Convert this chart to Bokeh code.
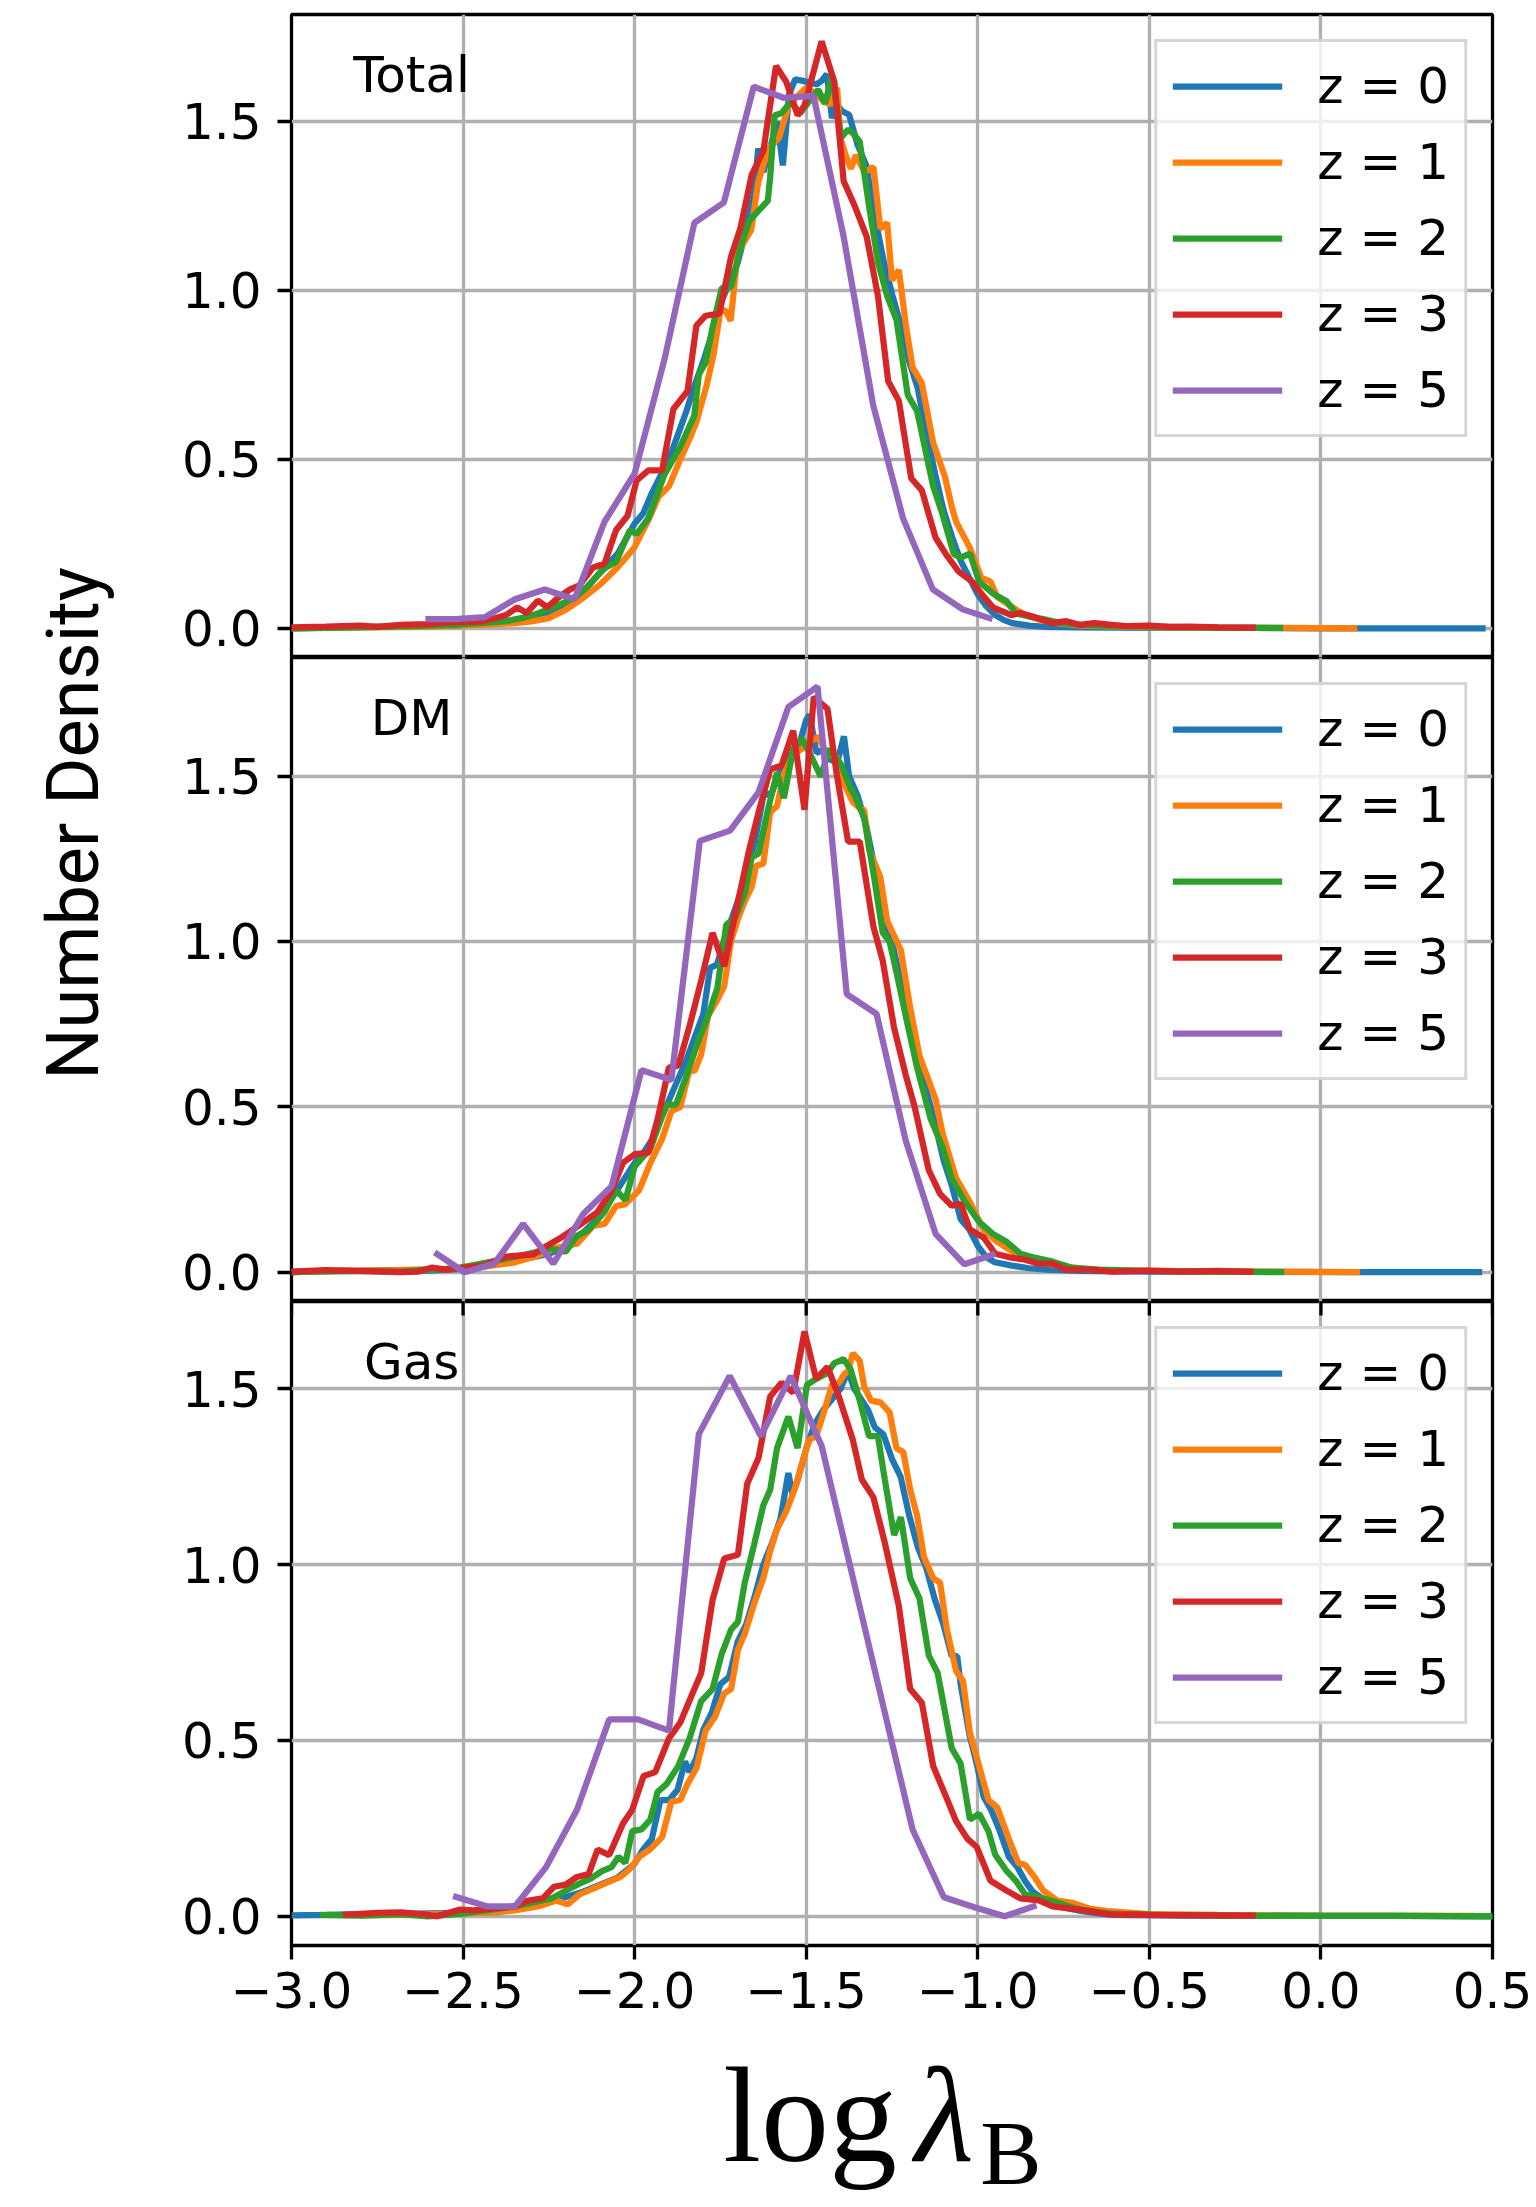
import math
from bokeh.plotting import figure
from bokeh.models import Range1d, FixedTicker, Grid, Label, CustomJSTickFormatter
from bokeh.layouts import row, column
from bokeh.embed import file_html
from bokeh.resources import INLINE

# ---------------- data ----------------
colors = ["#1f77b4", "#ff7f0e", "#2ca02c", "#d62728", "#9467bd"]
z_labels = ["z = 0", "z = 1", "z = 2", "z = 3", "z = 5"]
panel_names = ["Total", "DM", "Gas"]
x_ticks = [-3.0, -2.5, -2.0, -1.5, -1.0, -0.5, 0.0, 0.5]
y_ticks = [0.0, 0.5, 1.0, 1.5]
x_limits = (-3.0, 0.5)
y_limits = [(-0.0865, 1.8165), (-0.0885, 1.8585), (-0.083, 1.748)]

total_z0 = [(-3.0,0.0),(-2.9,0.002),(-2.8,0.004),(-2.7,0.005),(-2.6,0.006),(-2.5,0.01),(-2.45,0.012),(-2.4,0.015),(-2.35,0.02),(-2.3,0.03),(-2.25,0.045),(-2.2,0.075),(-2.15,0.11),(-2.1,0.165),(-2.05,0.22),(-2.0,0.31),(-1.975,0.34),(-1.95,0.40),(-1.925,0.45),(-1.9,0.50),(-1.875,0.57),(-1.85,0.64),(-1.825,0.72),(-1.8,0.79),(-1.775,0.87),(-1.75,0.96),(-1.725,1.02),(-1.7,1.08),(-1.675,1.18),(-1.65,1.30),(-1.64,1.42),(-1.625,1.35),(-1.6,1.44),(-1.585,1.50),(-1.568,1.37),(-1.55,1.58),(-1.532,1.625),(-1.51,1.62),(-1.49,1.615),(-1.47,1.61),(-1.455,1.62),(-1.44,1.64),(-1.425,1.51),(-1.41,1.55),(-1.395,1.53),(-1.375,1.52),(-1.35,1.43),(-1.325,1.37),(-1.3,1.22),(-1.275,1.09),(-1.25,0.99),(-1.225,0.90),(-1.2,0.79),(-1.175,0.71),(-1.15,0.58),(-1.125,0.46),(-1.1,0.35),(-1.075,0.27),(-1.05,0.20),(-1.025,0.15),(-1.0,0.10),(-0.975,0.065),(-0.95,0.04),(-0.925,0.025),(-0.9,0.015),(-0.85,0.008),(-0.8,0.004),(-0.7,0.003),(-0.6,0.002),(-0.4,0.001),(-0.2,0.001),(0.0,0.0),(0.2,0.0),(0.48,0.0)]
total_z1 = [(-3.0,0.0),(-2.8,0.003),(-2.6,0.005),(-2.45,0.01),(-2.35,0.015),(-2.3,0.02),(-2.25,0.03),(-2.2,0.055),(-2.15,0.09),(-2.1,0.13),(-2.05,0.18),(-2.0,0.24),(-1.96,0.32),(-1.93,0.39),(-1.9,0.42),(-1.867,0.50),(-1.84,0.56),(-1.82,0.61),(-1.79,0.72),(-1.77,0.81),(-1.75,0.94),(-1.735,0.94),(-1.72,0.91),(-1.70,1.11),(-1.66,1.18),(-1.64,1.32),(-1.61,1.42),(-1.58,1.45),(-1.55,1.55),(-1.52,1.58),(-1.50,1.60),(-1.47,1.58),(-1.45,1.56),(-1.43,1.55),(-1.41,1.60),(-1.40,1.45),(-1.385,1.40),(-1.37,1.36),(-1.355,1.40),(-1.33,1.35),(-1.304,1.365),(-1.284,1.183),(-1.264,1.2),(-1.25,1.03),(-1.23,1.06),(-1.21,0.90),(-1.19,0.772),(-1.163,0.725),(-1.13,0.549),(-1.096,0.449),(-1.076,0.36),(-1.063,0.315),(-1.023,0.238),(-0.99,0.15),(-0.963,0.138),(-0.943,0.092),(-0.889,0.056),(-0.862,0.039),(-0.82,0.025),(-0.77,0.015),(-0.7,0.008),(-0.6,0.005),(-0.45,0.003),(-0.3,0.002),(-0.1,0.001),(0.106,0.0)]
total_z2 = [(-3.0,0.0),(-2.8,0.003),(-2.65,0.006),(-2.523,0.01),(-2.45,0.015),(-2.375,0.021),(-2.33,0.03),(-2.282,0.044),(-2.23,0.065),(-2.175,0.09),(-2.13,0.13),(-2.094,0.174),(-2.054,0.197),(-2.014,0.29),(-1.994,0.279),(-1.96,0.326),(-1.913,0.455),(-1.867,0.537),(-1.826,0.63),(-1.813,0.751),(-1.793,0.786),(-1.773,0.89),(-1.746,1.007),(-1.719,1.01),(-1.692,1.125),(-1.666,1.206),(-1.639,1.236),(-1.612,1.265),(-1.605,1.335),(-1.592,1.518),(-1.572,1.524),(-1.545,1.559),(-1.518,1.524),(-1.492,1.559),(-1.465,1.594),(-1.445,1.553),(-1.425,1.635),(-1.398,1.453),(-1.378,1.476),(-1.364,1.465),(-1.344,1.44),(-1.317,1.25),(-1.29,1.08),(-1.264,0.983),(-1.237,0.913),(-1.204,0.69),(-1.177,0.643),(-1.13,0.42),(-1.103,0.338),(-1.07,0.22),(-1.05,0.209),(-1.023,0.221),(-0.996,0.138),(-0.956,0.103),(-0.916,0.08),(-0.889,0.044),(-0.85,0.035),(-0.809,0.027),(-0.755,0.015),(-0.7,0.01),(-0.6,0.006),(-0.45,0.004),(-0.3,0.002),(-0.11,0.001)]
total_z3 = [(-3.0,0.003),(-2.9,0.005),(-2.8,0.008),(-2.75,0.004),(-2.683,0.01),(-2.603,0.012),(-2.523,0.018),(-2.45,0.02),(-2.416,0.027),(-2.375,0.039),(-2.342,0.062),(-2.315,0.045),(-2.282,0.082),(-2.255,0.062),(-2.221,0.092),(-2.188,0.115),(-2.161,0.127),(-2.121,0.18),(-2.088,0.191),(-2.054,0.291),(-2.021,0.332),(-1.994,0.438),(-1.96,0.467),(-1.92,0.467),(-1.887,0.649),(-1.846,0.702),(-1.82,0.896),(-1.793,0.925),(-1.753,0.931),(-1.719,1.10),(-1.692,1.183),(-1.659,1.342),(-1.625,1.412),(-1.588,1.664),(-1.558,1.617),(-1.525,1.518),(-1.505,1.547),(-1.455,1.737),(-1.418,1.617),(-1.391,1.324),(-1.358,1.248),(-1.324,1.16),(-1.291,0.984),(-1.261,0.731),(-1.23,0.673),(-1.194,0.444),(-1.163,0.408),(-1.123,0.268),(-1.09,0.215),(-1.056,0.168),(-1.016,0.138),(-0.99,0.103),(-0.956,0.062),(-0.902,0.039),(-0.876,0.045),(-0.835,0.033),(-0.782,0.015),(-0.742,0.021),(-0.702,0.01),(-0.661,0.015),(-0.61,0.01),(-0.56,0.006),(-0.5,0.008),(-0.44,0.004),(-0.38,0.005),(-0.3,0.003),(-0.19,0.002)]
total_z5 = [(-2.61,0.027),(-2.523,0.027),(-2.436,0.033),(-2.349,0.086),(-2.262,0.115),(-2.175,0.086),(-2.088,0.315),(-2.0,0.458),(-1.913,0.796),(-1.826,1.20),(-1.74,1.26),(-1.653,1.603),(-1.566,1.57),(-1.479,1.576),(-1.392,1.165),(-1.305,0.661),(-1.218,0.326),(-1.131,0.115),(-1.044,0.056),(-0.957,0.027)]

dm_z0 = [(-3.0,0.0),(-2.9,0.003),(-2.8,0.004),(-2.7,0.006),(-2.6,0.005),(-2.5,0.01),(-2.45,0.015),(-2.4,0.025),(-2.35,0.035),(-2.3,0.045),(-2.25,0.055),(-2.2,0.08),(-2.15,0.12),(-2.1,0.17),(-2.05,0.25),(-2.0,0.33),(-1.975,0.36),(-1.95,0.40),(-1.925,0.46),(-1.9,0.52),(-1.875,0.58),(-1.85,0.64),(-1.825,0.71),(-1.8,0.78),(-1.78,0.92),(-1.76,0.93),(-1.74,1.0),(-1.72,1.06),(-1.7,1.12),(-1.675,1.20),(-1.65,1.30),(-1.625,1.44),(-1.6,1.45),(-1.575,1.52),(-1.55,1.56),(-1.525,1.58),(-1.5,1.67),(-1.49,1.685),(-1.47,1.57),(-1.45,1.58),(-1.43,1.55),(-1.41,1.54),(-1.39,1.62),(-1.375,1.50),(-1.35,1.44),(-1.325,1.35),(-1.3,1.22),(-1.275,1.08),(-1.25,1.0),(-1.225,0.88),(-1.2,0.79),(-1.175,0.66),(-1.15,0.55),(-1.125,0.45),(-1.1,0.34),(-1.075,0.26),(-1.05,0.16),(-1.025,0.13),(-1.0,0.08),(-0.975,0.045),(-0.95,0.03),(-0.9,0.02),(-0.85,0.012),(-0.8,0.008),(-0.7,0.004),(-0.5,0.002),(-0.2,0.001),(0.1,0.0),(0.47,0.0)]
dm_z1 = [(-3.0,0.0),(-2.85,0.004),(-2.7,0.006),(-2.55,0.01),(-2.45,0.015),(-2.349,0.03),(-2.282,0.05),(-2.228,0.074),(-2.168,0.086),(-2.121,0.14),(-2.088,0.146),(-2.054,0.2),(-2.027,0.206),(-1.987,0.248),(-1.954,0.331),(-1.92,0.403),(-1.893,0.487),(-1.867,0.499),(-1.84,0.613),(-1.826,0.607),(-1.806,0.659),(-1.786,0.775),(-1.759,0.823),(-1.739,0.865),(-1.719,1.002),(-1.699,1.068),(-1.679,1.122),(-1.659,1.164),(-1.646,1.229),(-1.625,1.235),(-1.605,1.391),(-1.585,1.409),(-1.565,1.505),(-1.538,1.565),(-1.512,1.583),(-1.485,1.607),(-1.465,1.619),(-1.438,1.565),(-1.411,1.559),(-1.391,1.481),(-1.364,1.421),(-1.344,1.403),(-1.331,1.397),(-1.317,1.278),(-1.284,1.194),(-1.264,1.062),(-1.224,0.973),(-1.197,0.799),(-1.17,0.655),(-1.123,0.523),(-1.103,0.421),(-1.063,0.284),(-1.023,0.212),(-0.983,0.128),(-0.943,0.092),(-0.889,0.056),(-0.835,0.038),(-0.768,0.02),(-0.675,0.008),(-0.55,0.005),(-0.4,0.003),(-0.2,0.002),(0.114,0.0)]
dm_z2 = [(-3.0,0.0),(-2.85,0.004),(-2.683,0.002),(-2.603,0.008),(-2.523,0.011),(-2.416,0.032),(-2.335,0.05),(-2.242,0.071),(-2.201,0.062),(-2.168,0.11),(-2.134,0.128),(-2.088,0.182),(-2.054,0.248),(-2.027,0.218),(-2.0,0.32),(-1.954,0.374),(-1.907,0.508),(-1.88,0.505),(-1.853,0.583),(-1.813,0.703),(-1.786,0.775),(-1.759,0.859),(-1.733,1.05),(-1.706,1.074),(-1.679,1.146),(-1.659,1.254),(-1.639,1.266),(-1.612,1.397),(-1.585,1.511),(-1.565,1.433),(-1.538,1.583),(-1.512,1.613),(-1.485,1.559),(-1.458,1.499),(-1.431,1.583),(-1.398,1.535),(-1.371,1.463),(-1.358,1.439),(-1.331,1.373),(-1.304,1.206),(-1.277,1.026),(-1.257,1.0),(-1.237,0.907),(-1.21,0.775),(-1.177,0.619),(-1.137,0.463),(-1.103,0.379),(-1.076,0.283),(-1.036,0.211),(-0.996,0.152),(-0.956,0.116),(-0.916,0.092),(-0.876,0.056),(-0.835,0.044),(-0.782,0.032),(-0.728,0.014),(-0.648,0.008),(-0.5,0.004),(-0.3,0.002),(-0.107,0.0)]
dm_z3 = [(-3.0,0.002),(-2.9,0.006),(-2.8,0.004),(-2.683,0.0),(-2.63,0.002),(-2.59,0.014),(-2.55,0.008),(-2.496,0.014),(-2.442,0.02),(-2.375,0.047),(-2.295,0.054),(-2.255,0.08),(-2.215,0.104),(-2.181,0.128),(-2.148,0.152),(-2.108,0.182),(-2.067,0.247),(-2.034,0.331),(-2.0,0.357),(-1.96,0.361),(-1.933,0.463),(-1.9,0.619),(-1.873,0.625),(-1.84,0.744),(-1.806,0.882),(-1.773,1.026),(-1.739,0.925),(-1.706,1.086),(-1.666,1.278),(-1.639,1.39),(-1.605,1.52),(-1.572,1.532),(-1.538,1.637),(-1.505,1.398),(-1.478,1.739),(-1.438,1.703),(-1.411,1.505),(-1.378,1.302),(-1.344,1.302),(-1.304,1.044),(-1.277,0.942),(-1.244,0.739),(-1.21,0.596),(-1.184,0.5),(-1.143,0.309),(-1.11,0.237),(-1.076,0.201),(-1.05,0.207),(-1.023,0.129),(-0.983,0.105),(-0.949,0.056),(-0.902,0.044),(-0.862,0.038),(-0.822,0.026),(-0.782,0.026),(-0.742,0.008),(-0.675,0.008),(-0.608,0.002),(-0.5,0.005),(-0.4,0.002),(-0.3,0.004),(-0.196,0.001)]
dm_z5 = [(-2.583,0.06),(-2.496,0.0),(-2.409,0.026),(-2.325,0.146),(-2.237,0.026),(-2.15,0.176),(-2.067,0.26),(-1.98,0.611),(-1.893,0.581),(-1.81,1.304),(-1.722,1.335),(-1.639,1.451),(-1.552,1.709),(-1.467,1.771),(-1.382,0.841),(-1.295,0.781),(-1.21,0.398),(-1.123,0.116),(-1.039,0.024),(-0.949,0.056)]

gas_z0 = [(-3.0,0.003),(-2.9,0.004),(-2.8,0.006),(-2.7,0.005),(-2.6,0.008),(-2.5,0.01),(-2.4,0.012),(-2.35,0.02),(-2.3,0.03),(-2.25,0.04),(-2.2,0.055),(-2.15,0.07),(-2.1,0.09),(-2.05,0.11),(-2.0,0.15),(-1.975,0.19),(-1.95,0.22),(-1.925,0.33),(-1.9,0.33),(-1.875,0.36),(-1.853,0.44),(-1.84,0.41),(-1.82,0.45),(-1.8,0.53),(-1.775,0.58),(-1.75,0.66),(-1.725,0.68),(-1.7,0.78),(-1.675,0.83),(-1.65,0.91),(-1.625,1.0),(-1.6,1.06),(-1.575,1.13),(-1.552,1.26),(-1.54,1.2),(-1.525,1.24),(-1.5,1.33),(-1.475,1.4),(-1.45,1.44),(-1.425,1.47),(-1.4,1.5),(-1.378,1.55),(-1.36,1.5),(-1.34,1.47),(-1.32,1.44),(-1.3,1.39),(-1.275,1.37),(-1.25,1.30),(-1.225,1.25),(-1.2,1.14),(-1.175,1.05),(-1.15,0.99),(-1.125,0.9),(-1.1,0.83),(-1.076,0.74),(-1.06,0.74),(-1.05,0.66),(-1.025,0.52),(-1.0,0.42),(-0.983,0.34),(-0.96,0.3),(-0.935,0.24),(-0.91,0.17),(-0.885,0.14),(-0.862,0.10),(-0.84,0.07),(-0.81,0.05),(-0.78,0.035),(-0.75,0.025),(-0.7,0.015),(-0.65,0.008),(-0.6,0.004),(-0.4,0.002),(-0.1,0.001),(0.2,0.001),(0.5,0.0)]
gas_z1 = [(-2.8,0.003),(-2.65,0.005),(-2.5,0.008),(-2.416,0.011),(-2.349,0.017),(-2.282,0.028),(-2.228,0.045),(-2.195,0.034),(-2.161,0.062),(-2.121,0.079),(-2.081,0.096),(-2.041,0.112),(-2.014,0.135),(-1.987,0.169),(-1.954,0.191),(-1.92,0.225),(-1.893,0.326),(-1.867,0.331),(-1.846,0.376),(-1.82,0.421),(-1.793,0.528),(-1.766,0.567),(-1.739,0.634),(-1.719,0.646),(-1.699,0.758),(-1.679,0.803),(-1.652,0.888),(-1.625,0.961),(-1.605,1.039),(-1.585,1.101),(-1.558,1.152),(-1.532,1.219),(-1.512,1.287),(-1.492,1.354),(-1.471,1.365),(-1.445,1.444),(-1.425,1.511),(-1.404,1.517),(-1.391,1.539),(-1.378,1.551),(-1.364,1.601),(-1.344,1.579),(-1.331,1.506),(-1.311,1.466),(-1.284,1.461),(-1.257,1.433),(-1.237,1.331),(-1.217,1.32),(-1.197,1.213),(-1.177,1.14),(-1.157,1.022),(-1.13,0.961),(-1.11,0.949),(-1.09,0.815),(-1.063,0.697),(-1.043,0.669),(-1.023,0.522),(-0.996,0.427),(-0.969,0.331),(-0.943,0.309),(-0.909,0.219),(-0.882,0.152),(-0.862,0.146),(-0.835,0.112),(-0.809,0.073),(-0.768,0.045),(-0.728,0.039),(-0.675,0.022),(-0.621,0.015),(-0.5,0.006),(-0.3,0.004),(0.0,0.002),(0.45,0.001)]
gas_z2 = [(-2.917,0.004),(-2.8,0.002),(-2.683,0.006),(-2.603,0.0),(-2.496,0.008),(-2.416,0.019),(-2.349,0.028),(-2.282,0.042),(-2.242,0.051),(-2.201,0.073),(-2.161,0.093),(-2.128,0.107),(-2.094,0.129),(-2.067,0.14),(-2.047,0.169),(-2.027,0.152),(-2.007,0.242),(-1.98,0.247),(-1.954,0.275),(-1.933,0.354),(-1.907,0.376),(-1.873,0.427),(-1.84,0.506),(-1.806,0.612),(-1.773,0.646),(-1.746,0.747),(-1.719,0.815),(-1.699,0.837),(-1.679,0.949),(-1.652,1.056),(-1.625,1.169),(-1.605,1.213),(-1.585,1.331),(-1.552,1.421),(-1.525,1.331),(-1.498,1.511),(-1.471,1.528),(-1.438,1.545),(-1.418,1.573),(-1.391,1.584),(-1.371,1.556),(-1.344,1.466),(-1.317,1.365),(-1.291,1.365),(-1.271,1.242),(-1.244,1.084),(-1.224,1.135),(-1.197,0.961),(-1.17,0.904),(-1.143,0.742),(-1.117,0.692),(-1.076,0.478),(-1.05,0.434),(-1.023,0.275),(-0.996,0.292),(-0.969,0.242),(-0.949,0.175),(-0.916,0.129),(-0.889,0.101),(-0.862,0.062),(-0.822,0.054),(-0.768,0.039),(-0.715,0.022),(-0.648,0.011),(-0.594,0.006),(-0.45,0.004),(-0.25,0.002),(0.0,0.001),(0.25,0.001),(0.5,0.0)]
gas_z3 = [(-2.85,0.004),(-2.75,0.01),(-2.683,0.011),(-2.617,0.006),(-2.576,0.0),(-2.509,0.019),(-2.469,0.017),(-2.416,0.022),(-2.349,0.028),(-2.309,0.045),(-2.268,0.051),(-2.235,0.084),(-2.201,0.09),(-2.168,0.112),(-2.134,0.12),(-2.108,0.19),(-2.074,0.174),(-2.034,0.264),(-2.007,0.303),(-1.974,0.399),(-1.94,0.41),(-1.9,0.506),(-1.867,0.551),(-1.833,0.63),(-1.806,0.692),(-1.773,0.899),(-1.739,1.017),(-1.699,1.028),(-1.672,1.23),(-1.639,1.303),(-1.605,1.478),(-1.572,1.517),(-1.538,1.489),(-1.505,1.663),(-1.471,1.528),(-1.438,1.562),(-1.405,1.478),(-1.364,1.354),(-1.338,1.242),(-1.304,1.191),(-1.271,1.062),(-1.23,0.882),(-1.197,0.646),(-1.163,0.607),(-1.13,0.427),(-1.096,0.348),(-1.063,0.27),(-1.03,0.22),(-1.003,0.197),(-0.963,0.101),(-0.916,0.073),(-0.876,0.051),(-0.822,0.045),(-0.782,0.028),(-0.728,0.022),(-0.675,0.015),(-0.621,0.006),(-0.5,0.004),(-0.35,0.003),(-0.19,0.002)]
gas_z5 = [(-2.529,0.058),(-2.429,0.028),(-2.349,0.028),(-2.258,0.14),(-2.168,0.303),(-2.074,0.56),(-1.99,0.56),(-1.9,0.528),(-1.813,1.371),(-1.723,1.536),(-1.632,1.365),(-1.545,1.536),(-1.455,1.337),(-1.364,0.963),(-1.277,0.604),(-1.19,0.247),(-1.099,0.054),(-1.01,0.026),(-0.922,0.0),(-0.829,0.031)]

panels_data = [
    [total_z0, total_z1, total_z2, total_z3, total_z5],
    [dm_z0, dm_z1, dm_z2, dm_z3, dm_z5],
    [gas_z0, gas_z1, gas_z2, gas_z3, gas_z5],
]

# ---------------- styling ----------------
SPINE = 3.3
GRID_COLOR = "#b0b0b0"
LINE_W = 6.25
TICK_FONT = "DejaVu Sans"
FS_PX = 50
FS = "%dpx" % FS_PX
BASE_SHIFT = 0.38   # Label 'alphabetic' anchor correction (fraction of font size)
fmt_code = "return tick.toFixed(1).replace('-', '\u2212');"

LEFT_W = 130
BORDER_L = 291 - LEFT_W
BORDER_R = 44
BOTTOM_B = 86
frame_heights = [643, 644, 644]


def no_align(p):
    if "frame_align" in p.properties():
        p.frame_align = False


def style_axis(ax, ticks):
    ax.ticker = FixedTicker(ticks=ticks)
    ax.formatter = CustomJSTickFormatter(code=fmt_code)
    ax.axis_line_color = None
    ax.major_tick_in = 0
    ax.major_tick_out = 14
    ax.major_tick_line_width = SPINE
    ax.major_tick_line_color = "black"
    ax.minor_tick_line_color = None
    ax.major_label_text_font = TICK_FONT
    ax.major_label_text_font_size = FS
    ax.major_label_text_color = "black"


def make_panel(i):
    first = i == 0
    last = i == 2
    yr = y_limits[i]
    H = frame_heights[i]
    p = figure(frame_width=1201, frame_height=H,
               x_range=Range1d(*x_limits), y_range=Range1d(*yr),
               x_axis_location="below" if last else None,
               y_axis_location="left",
               toolbar_location=None, output_backend="svg",
               min_border_left=BORDER_L, min_border_right=BORDER_R,
               min_border_top=14 if first else 0,
               min_border_bottom=BOTTOM_B if last else 0,
               background_fill_color="white", border_fill_color="white")
    p.center = [r for r in p.center if not isinstance(r, Grid)]
    p.add_layout(Grid(dimension=0, ticker=FixedTicker(ticks=x_ticks),
                      grid_line_color=GRID_COLOR, grid_line_width=SPINE))
    p.add_layout(Grid(dimension=1, ticker=FixedTicker(ticks=y_ticks),
                      grid_line_color=GRID_COLOR, grid_line_width=SPINE))
    p.outline_line_color = "black"
    p.outline_line_width = SPINE
    p.outline_line_alpha = 1.0

    style_axis(p.yaxis[0], y_ticks)
    p.yaxis[0].major_label_standoff = 16
    if last:
        style_axis(p.xaxis[0], x_ticks)
        p.xaxis[0].major_label_standoff = 12
        # ticks of the panel above, reaching into this panel
        p.ray(x=x_ticks, y=[yr[1]] * len(x_ticks), length=14, length_units="screen",
              angle=-math.pi / 2, line_color="black", line_width=SPINE)

    for pts, c, lab in zip(panels_data[i], colors, z_labels):
        xs = [a for a, b in pts]
        ys = [b for a, b in pts]
        p.line(xs, ys, line_color=c, line_width=LINE_W, legend_label=lab)

    lg = p.legend[0]
    lg.location = "top_right"
    lg.margin = 25
    lg.padding = 15
    lg.spacing = 18
    lg.glyph_width = 110
    lg.glyph_height = 40
    lg.label_height = 40
    lg.label_standoff = 35
    lg.label_text_font = TICK_FONT
    lg.label_text_font_size = FS
    lg.label_text_color = "black"
    lg.border_line_color = "#cccccc"
    lg.border_line_width = SPINE
    lg.border_line_alpha = 0.8
    lg.background_fill_alpha = 0.8

    frac = 0.877 + BASE_SHIFT * FS_PX / H
    p.add_layout(Label(x=x_limits[0] + 0.1 * (x_limits[1] - x_limits[0]),
                       y=yr[0] + frac * (yr[1] - yr[0]),
                       text=panel_names[i], text_align="center", text_baseline="alphabetic",
                       text_font=TICK_FONT, text_font_size=FS, text_color="black"))
    return p


panels = [make_panel(i) for i in range(3)]

# ---- y label strip (pixel coordinates, y measured up from the bottom) ----
YL_FS = 72
ylab = figure(width=LEFT_W, height=2207, x_range=Range1d(0, LEFT_W), y_range=Range1d(0, 2207 - 14),
              x_axis_location=None, y_axis_location=None, toolbar_location=None,
              output_backend="svg", min_border_left=0, min_border_right=0,
              min_border_top=14, min_border_bottom=0, outline_line_color=None)
ylab.center = [r for r in ylab.center if not isinstance(r, Grid)]
no_align(ylab)
ylab.add_layout(Label(x=100 - BASE_SHIFT * YL_FS, y=2207 - 823, text="Number Density",
                      angle=math.pi / 2, text_align="center", text_baseline="alphabetic",
                      text_font="Roboto", text_font_size="%dpx" % YL_FS, text_color="black"))

# ---- x label strip (x in data units, y in pixels up from the bottom) ----
XH = 2207 - (14 + sum(frame_heights) + BOTTOM_B)
LOG_FS = 136
SUB_FS = 92
xlab = figure(width=1536 - LEFT_W, height=XH, x_range=Range1d(*x_limits), y_range=Range1d(0, XH),
              x_axis_location=None, y_axis_location=None, toolbar_location=None,
              output_backend="svg", min_border_left=BORDER_L, min_border_right=BORDER_R,
              min_border_top=0, min_border_bottom=0, outline_line_color=None)
xlab.center = [r for r in xlab.center if not isinstance(r, Grid)]
no_align(xlab)
xlab.add_layout(Label(x=-1.742, y=41 + BASE_SHIFT * LOG_FS, text="log", text_font="Liberation Serif",
                      text_font_size="%dpx" % LOG_FS, text_align="left", text_baseline="alphabetic",
                      text_color="black"))
xlab.add_layout(Label(x=-1.183, y=41 + BASE_SHIFT * LOG_FS, text="λ", text_font="Liberation Serif",
                      text_font_style="italic", text_font_size="%dpx" % LOG_FS, text_align="left",
                      text_baseline="alphabetic", text_color="black"))
xlab.add_layout(Label(x=-0.993, y=20 + BASE_SHIFT * SUB_FS, text="B", text_font="Liberation Serif",
                      text_font_size="%dpx" % SUB_FS, text_align="left", text_baseline="alphabetic",
                      text_color="black"))

layout = row(ylab, column(panels[0], panels[1], panels[2], xlab))

open("out.html", "w").write(file_html(layout, INLINE))
